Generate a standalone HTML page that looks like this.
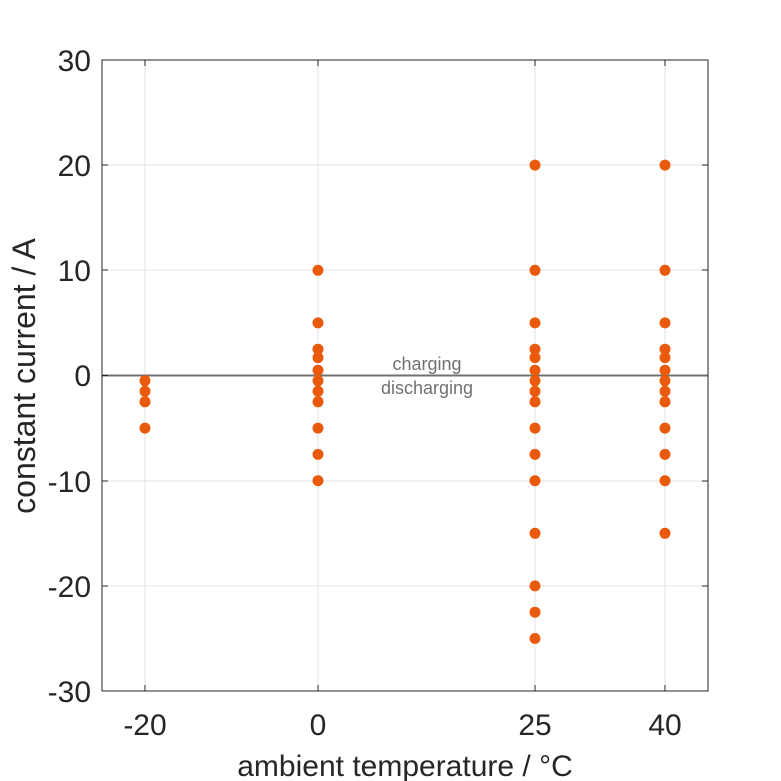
<!DOCTYPE html>
<html><head><style>body{margin:0;background:#fff}svg{display:block}text{font-family:"Liberation Sans",sans-serif}</style></head>
<body>
<svg width="781" height="781" viewBox="0 0 781 781" xmlns="http://www.w3.org/2000/svg">
<rect width="781" height="781" fill="#fff"/>
<g stroke="#e3e3e3" stroke-width="1">
<line x1="145" y1="60" x2="145" y2="691"/><line x1="318" y1="60" x2="318" y2="691"/>
<line x1="535" y1="60" x2="535" y2="691"/><line x1="665" y1="60" x2="665" y2="691"/>
<line x1="102" y1="165" x2="708" y2="165"/><line x1="102" y1="270" x2="708" y2="270"/>
<line x1="102" y1="481" x2="708" y2="481"/><line x1="102" y1="586" x2="708" y2="586"/>
</g>
<line x1="102" y1="375.5" x2="708" y2="375.5" stroke="#707070" stroke-width="2"/>
<rect x="102" y="60" width="606" height="631" fill="none" stroke="#262626" stroke-width="1"/>
<g stroke="#262626">
<line x1="145" y1="691" x2="145" y2="685"/><line x1="318" y1="691" x2="318" y2="685"/><line x1="535" y1="691" x2="535" y2="685"/><line x1="665" y1="691" x2="665" y2="685"/>
<line x1="145" y1="60" x2="145" y2="66"/><line x1="318" y1="60" x2="318" y2="66"/><line x1="535" y1="60" x2="535" y2="66"/><line x1="665" y1="60" x2="665" y2="66"/>
<line x1="102" y1="165" x2="108" y2="165"/><line x1="102" y1="270" x2="108" y2="270"/><line x1="102" y1="375.5" x2="108" y2="375.5"/><line x1="102" y1="481" x2="108" y2="481"/><line x1="102" y1="586" x2="108" y2="586"/>
<line x1="708" y1="165" x2="702" y2="165"/><line x1="708" y1="270" x2="702" y2="270"/><line x1="708" y1="481" x2="702" y2="481"/><line x1="708" y1="586" x2="702" y2="586"/>
</g>
<g font-size="30" fill="#262626" text-anchor="end">
<text x="91" y="71">30</text><text x="91" y="176">20</text><text x="91" y="281">10</text><text x="91" y="386">0</text><text x="91" y="492">-10</text><text x="91" y="597">-20</text><text x="91" y="702">-30</text>
</g>
<g font-size="30" fill="#262626" text-anchor="middle">
<text x="145" y="735">-20</text><text x="318" y="735">0</text><text x="535" y="735">25</text><text x="665" y="735">40</text>
<text x="405" y="776">ambient temperature / °C</text>
<text transform="translate(35,376) rotate(-90)" font-size="32">constant current / A</text>
</g>
<g font-size="18" fill="#707070" text-anchor="middle">
<text x="427" y="370">charging</text><text x="427" y="394">discharging</text>
</g>
<g fill="#ea5a0c">
<circle cx="145" cy="380.8" r="5.5"/><circle cx="145" cy="391.3" r="5.5"/><circle cx="145" cy="401.8" r="5.5"/><circle cx="145" cy="428.1" r="5.5"/>
<circle cx="318" cy="270.3" r="5.5"/><circle cx="318" cy="322.9" r="5.5"/><circle cx="318" cy="349.2" r="5.5"/><circle cx="318" cy="357.6" r="5.5"/><circle cx="318" cy="370.2" r="5.5"/><circle cx="318" cy="380.8" r="5.5"/><circle cx="318" cy="391.3" r="5.5"/><circle cx="318" cy="401.8" r="5.5"/><circle cx="318" cy="428.1" r="5.5"/><circle cx="318" cy="454.4" r="5.5"/><circle cx="318" cy="480.7" r="5.5"/>
<circle cx="535" cy="165.1" r="5.5"/><circle cx="535" cy="270.3" r="5.5"/><circle cx="535" cy="322.9" r="5.5"/><circle cx="535" cy="349.2" r="5.5"/><circle cx="535" cy="357.6" r="5.5"/><circle cx="535" cy="370.2" r="5.5"/><circle cx="535" cy="380.8" r="5.5"/><circle cx="535" cy="391.3" r="5.5"/><circle cx="535" cy="401.8" r="5.5"/><circle cx="535" cy="428.1" r="5.5"/><circle cx="535" cy="454.4" r="5.5"/><circle cx="535" cy="480.7" r="5.5"/><circle cx="535" cy="533.3" r="5.5"/><circle cx="535" cy="585.9" r="5.5"/><circle cx="535" cy="612.2" r="5.5"/><circle cx="535" cy="638.5" r="5.5"/>
<circle cx="665" cy="165.1" r="5.5"/><circle cx="665" cy="270.3" r="5.5"/><circle cx="665" cy="322.9" r="5.5"/><circle cx="665" cy="349.2" r="5.5"/><circle cx="665" cy="357.6" r="5.5"/><circle cx="665" cy="370.2" r="5.5"/><circle cx="665" cy="380.8" r="5.5"/><circle cx="665" cy="391.3" r="5.5"/><circle cx="665" cy="401.8" r="5.5"/><circle cx="665" cy="428.1" r="5.5"/><circle cx="665" cy="454.4" r="5.5"/><circle cx="665" cy="480.7" r="5.5"/><circle cx="665" cy="533.3" r="5.5"/>
</g>
</svg>
</body></html>
